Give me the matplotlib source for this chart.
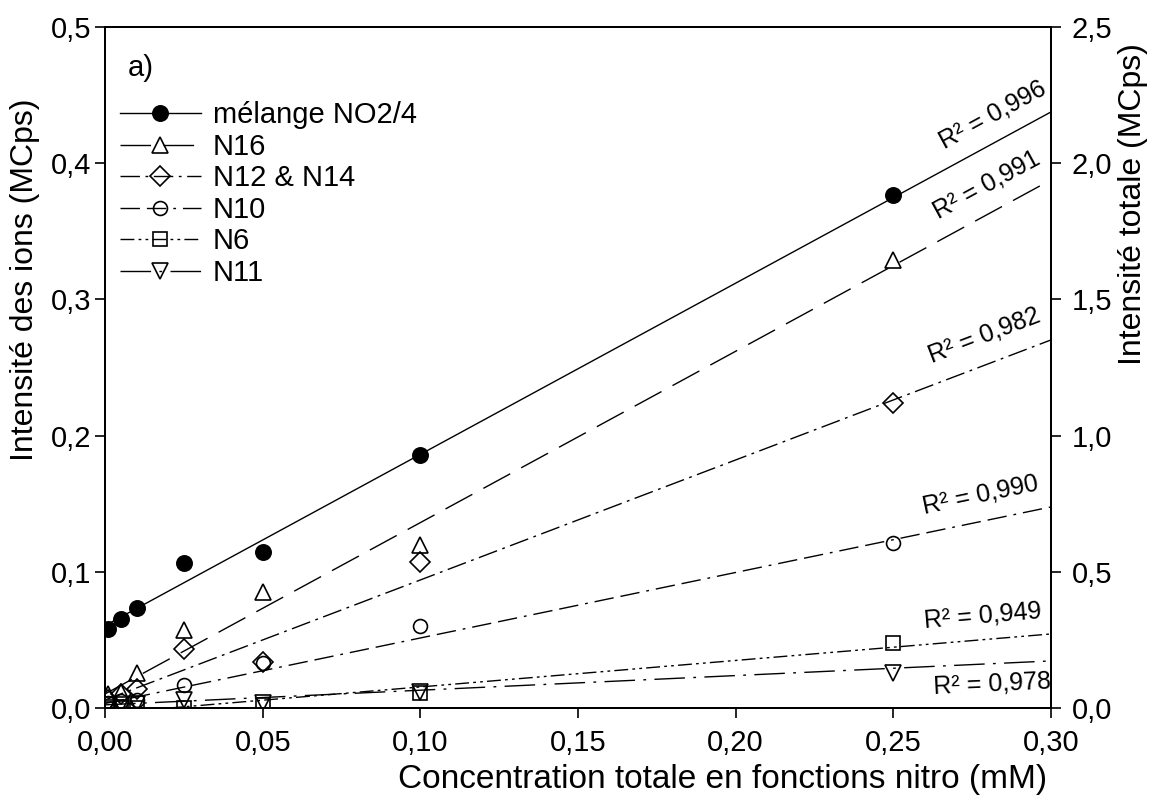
import numpy as np
import matplotlib.pyplot as plt
from matplotlib.ticker import FuncFormatter

plt.rcParams['font.family'] = ['Liberation Sans', 'DejaVu Sans']

# Concentration totale en fonctions nitro (mM)
conc = [0.001, 0.005, 0.01, 0.025, 0.05, 0.10, 0.25]

# Intensité totale (MCps), right axis
melange = [0.290, 0.327, 0.367, 0.533, 0.573, 0.929, 1.884]

# Intensité des ions (MCps), left axis
n16 = [0.010, 0.012, 0.026, 0.057, 0.085, 0.120, 0.329]
n12_14 = [0.006, 0.010, 0.014, 0.043, 0.034, 0.107, 0.224]
n10 = [0.004, 0.005, 0.006, 0.017, 0.033, 0.060, 0.121]
n6 = [0.001, 0.000, 0.000, 0.000, 0.002, 0.011, 0.048]
n11 = [0.002, 0.002, 0.003, 0.006, 0.004, 0.012, 0.026]

# linear fits: (slope, intercept, R2 label)
fit_melange = (6.285, 0.3025, "0,996")
fit_n16 = (1.258, 0.0103, "0,991")
fit_n12_14 = (0.881, 0.0059, "0,982")
fit_n10 = (0.481, 0.0033, "0,990")
fit_n6 = (0.1945, -0.004, "0,949")
fit_n11 = (0.1075, 0.0023, "0,978")

fig = plt.figure(figsize=(11.53, 7.98), dpi=100)
ax = fig.add_axes([0.0911, 0.1128, 0.8204, 0.8534])
ax2 = ax.twinx()

xfit = np.array([0.0, 0.30])

series = [
    (ax2, melange, fit_melange, "mélange NO2/4", "o", 11, "-", True),
    (ax, n16, fit_n16, "N16", "^", 12, (0, (22, 9)), False),
    (ax, n12_14, fit_n12_14, "N12 & N14", "D", 10, (0, (14, 4, 2, 4)), False),
    (ax, n10, fit_n10, "N10", "o", 10, (0, (14, 5, 14, 5, 2, 5)), False),
    (ax, n6, fit_n6, "N6", "s", 10, (0, (10, 3, 2, 3, 2, 3)), False),
    (ax, n11, fit_n11, "N11", "v", 12, (0, (22, 6, 2, 6)), False),
]

handles = []
for a, y, fit, label, marker, ms, ls, filled in series:
    slope, icpt, r2 = fit
    a.plot(xfit, slope * xfit + icpt, color="black", lw=1.0, ls=ls)
    a.plot(conc, y, ls="none", marker=marker, ms=ms, mec="black", mew=1.2,
           mfc="black" if filled else "none")
    h, = a.plot([], [], color="black", lw=1.0, ls=ls, marker=marker, ms=ms,
                mec="black", mew=1.2, mfc="black" if filled else "none")
    h.set_label(label)
    handles.append(h)

# R2 annotations along the fit lines
annot = [
    (ax2, fit_melange, 0.267, 0.055, "bottom"),
    (ax, fit_n16, 0.265, 0.012, "bottom"),
    (ax, fit_n12_14, 0.2626, 0.013, "bottom"),
    (ax, fit_n10, 0.260, 0.011, "bottom"),
    (ax, fit_n6, 0.260, 0.009, "bottom"),
    (ax, fit_n11, 0.2626, -0.006, "top"),
]
for a, fit, xa, off, va in annot:
    slope, icpt, r2 = fit
    ang = np.degrees(np.arctan(slope))
    a.text(xa, slope * xa + icpt + off, "R² = " + r2, fontsize=18,
           rotation=ang, transform_rotates_text=True, rotation_mode="anchor",
           ha="left", va=va)

comma = FuncFormatter(lambda v, p: f"{v:.1f}".replace(".", ","))
comma2 = FuncFormatter(lambda v, p: f"{v:.2f}".replace(".", ","))

ax.set_xlim(0, 0.30)
ax.set_ylim(0, 0.5)
ax2.set_ylim(0, 2.5)
ax.set_xticks(np.arange(0, 0.301, 0.05))
ax.set_yticks(np.arange(0, 0.51, 0.1))
ax2.set_yticks(np.arange(0, 2.51, 0.5))
ax.xaxis.set_major_formatter(comma2)
ax.yaxis.set_major_formatter(comma)
ax2.yaxis.set_major_formatter(comma)

for a in (ax, ax2):
    a.tick_params(direction="out", length=7, width=1.2, labelsize=21, pad=3)
    for s in a.spines.values():
        s.set_linewidth(1.4)
ax.tick_params(axis="x", pad=8)
ax2.tick_params(axis="y", pad=8)

ax.set_xlabel("Concentration totale en fonctions nitro (mM)", fontsize=24)
ax.xaxis.set_label_coords(0.996, -0.1175)
ax.xaxis.label.set_ha("right")
ax.xaxis.label.set_va("baseline")

ax.set_ylabel("Intensité des ions (MCps)", fontsize=23)
ax2.set_ylabel("Intensité totale (MCps)", fontsize=23)
# both vertical titles are placed in the upper part, running upwards
ax.yaxis.set_label_coords(-0.0687, 0.363)
ax.yaxis.label.set_va("bottom")
ax.yaxis.label.set_ha("left")
ax.yaxis.label.set_rotation_mode("anchor")
ax2.yaxis.set_label_coords(1.071, 0.5037)
ax2.yaxis.label.set_va("top")
ax2.yaxis.label.set_ha("left")
ax2.yaxis.label.set_rotation(90)
ax2.yaxis.label.set_rotation_mode("anchor")

ax.text(0.024, 0.94, "a)", transform=ax.transAxes, fontsize=21, va="center")
ax2.legend(handles=handles, loc="upper left", bbox_to_anchor=(0.0, 0.912),
           frameon=False, fontsize=21, handlelength=2.8, handletextpad=0.4,
           labelspacing=0.12, borderaxespad=0.3, borderpad=0.2)

fig.savefig("out.png", dpi=100)
